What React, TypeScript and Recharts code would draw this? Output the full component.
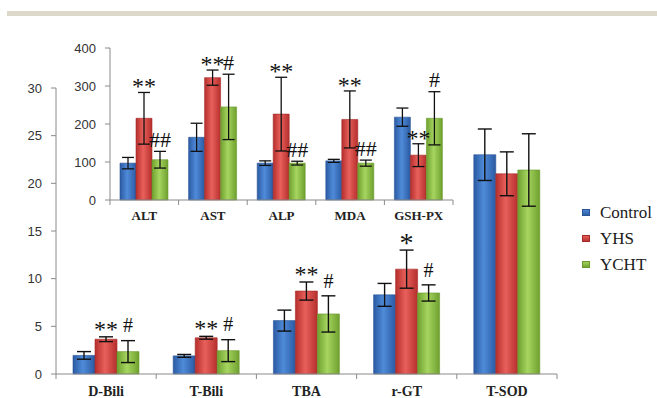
import React from "react";
import { BarChart, Bar, XAxis, YAxis, ErrorBar, Legend } from "recharts";

// lower (main) chart
const mainCats = ["D-Bili", "T-Bili", "TBA", "r-GT", "T-SOD"];
const mainControl = [1.95, 1.9, 5.6, 8.3, 23.0];
const mainControlErr = [0.4, 0.15, 1.1, 1.2, 2.7];
const mainYHS = [3.65, 3.8, 8.7, 11.0, 21.0];
const mainYHSErr = [0.25, 0.15, 0.95, 2.0, 2.3];
const mainYCHT = [2.35, 2.45, 6.3, 8.5, 21.4];
const mainYCHTErr = [1.15, 1.15, 1.9, 0.85, 3.8];
const mainYHSMark = ["**", "**", "**", "*", ""];
const mainYCHTMark = ["#", "#", "#", "#", ""];
const mainTicks = [0, 5, 10, 15, 20, 25, 30];

// inset chart
const insetCats = ["ALT", "AST", "ALP", "MDA", "GSH-PX"];
const insetControl = [97, 165, 97, 103, 218];
const insetControlErr = [15, 37, 6, 4, 24];
const insetYHS = [215, 322, 226, 212, 118];
const insetYHSErr = [68, 20, 97, 75, 30];
const insetYCHT = [106, 245, 97, 97, 215];
const insetYCHTErr = [22, 86, 5, 8, 70];
const insetYHSMark = ["**", "**", "**", "**", "**"];
const insetYCHTMark = ["##", "#", "##", "##", "#"];
const insetTicks = [0, 100, 200, 300, 400];

const mainData = mainCats.map((name, i) => ({
  name,
  control: mainControl[i],
  controlErr: mainControlErr[i],
  yhs: mainYHS[i],
  yhsErr: mainYHSErr[i],
  ycht: mainYCHT[i],
  yhctErr: mainYCHTErr[i],
}));

const insetData = insetCats.map((name, i) => ({
  name,
  control: insetControl[i],
  controlErr: insetControlErr[i],
  yhs: insetYHS[i],
  yhsErr: insetYHSErr[i],
  ycht: insetYCHT[i],
  yhctErr: insetYCHTErr[i],
}));

const serif = "Liberation Serif, serif";
const sans = "Liberation Sans, Arial, sans-serif";
const axisGray = "#8a8a8a";

const colors = {
  control: { a: "#2b5aa3", b: "#4f8bd9", stroke: "#2a5597" },
  yhs: { a: "#b52f2d", b: "#e9605b", stroke: "#a52a28" },
  ycht: { a: "#6f9f2e", b: "#a6d660", stroke: "#6a9a2b" },
};

// significance marks drawn above the error bar of each bar
const makeMark =
  (marks: string[], errs: number[], starSize: number, hashSize: number, gapStar: number, gapHash: number) =>
  (props: any) => {
    const { x, y, width, height, value, index } = props;
    const m = marks[index];
    if (!m || !value) return null;
    const ppu = height / value;
    const top = y - errs[index] * ppu;
    const star = m[0] === "*";
    const fs = star ? (m.length === 1 ? starSize + 4 : starSize) : hashSize;
    const base = star ? top - gapStar + fs * 0.5 : top - gapHash + fs * 0.34;
    return (
      <text
        key={`m-${index}`}
        x={x + width / 2}
        y={base}
        textAnchor="middle"
        fontSize={fs}
        fontFamily={serif}
        fill="#111"
      >
        {m}
      </text>
    );
  };

const legendItems = [
  ["Control", "control"],
  ["YHS", "yhs"],
  ["YCHT", "ycht"],
];

const LegendBox = () => (
  <svg width={76} height={80}>
    {legendItems.map(([label, key], i) => {
      const c = (colors as any)[key];
      return (
        <g key={label} transform={`translate(0, ${i * 26})`}>
          <rect x={1.5} y={10.5} width={7} height={6} fill={`url(#v-${key})`} stroke={c.stroke} strokeWidth={1} />
          <text x={19} y={19} fontSize={17} fontFamily={serif} fill="#1a1a1a">
            {label}
          </text>
        </g>
      );
    })}
  </svg>
);

function Gradients() {
  return (
    <svg width={0} height={0} style={{ position: "absolute" }}>
      <defs>
        {Object.entries(colors).map(([k, c]) => (
          <linearGradient key={k} id={`g-${k}`} x1="0" y1="0" x2="1" y2="0">
            <stop offset="0%" stopColor={c.a} />
            <stop offset="45%" stopColor={c.b} />
            <stop offset="100%" stopColor={c.a} />
          </linearGradient>
        ))}
        {Object.entries(colors).map(([k, c]) => (
          <linearGradient key={`v${k}`} id={`v-${k}`} x1="0" y1="0" x2="0" y2="1">
            <stop offset="0%" stopColor={c.b} />
            <stop offset="100%" stopColor={c.a} />
          </linearGradient>
        ))}
      </defs>
    </svg>
  );
}

// category label plus short tick marks at the group boundaries
const catTick = (fontSize: number, dy: number) => (props: any) => {
  const { x, y, payload, index, visibleTicksCount, width } = props;
  const half = payload && payload.offset ? payload.offset : width / visibleTicksCount / 2;
  const last = index === visibleTicksCount - 1;
  return (
    <g>
      <line x1={x - half} y1={y} x2={x - half} y2={y + 5} stroke={axisGray} />
      {last && <line x1={x + half} y1={y} x2={x + half} y2={y + 5} stroke={axisGray} />}
      <text x={x} y={y + dy} textAnchor="middle" fontSize={fontSize} fontWeight="bold" fontFamily={serif} fill="#222">
        {payload.value}
      </text>
    </g>
  );
};

export default function App() {
  return (
    <div style={{ position: "absolute", left: 0, top: 0, width: 657, height: 398, background: "#fff", overflow: "hidden" }}>
      <Gradients />
      <div style={{ position: "absolute", left: 7, top: 11, width: 650, height: 5, background: "#ddd8ca" }} />

      <div style={{ position: "absolute", left: 0, top: 0 }}>
        <BarChart width={657} height={398} data={mainData} margin={{ top: 88, right: 100, bottom: 0, left: 0 }} barGap={0}>
          <XAxis
            dataKey="name"
            height={24}
            stroke={axisGray}
            tickLine={false}
            tickSize={0}
            tickMargin={0}
            tick={catTick(14, 22)}
            interval={0}
          />
          <YAxis
            domain={[0, 30]}
            ticks={mainTicks}
            width={56}
            tickSize={5}
            stroke={axisGray}
            tick={{ fill: "#333", fontSize: 13, fontFamily: sans }}
            tickMargin={9}
            interval={0}
          />
          <Legend layout="vertical" align="center" verticalAlign="middle" content={<LegendBox />} wrapperStyle={{ left: 581, top: 199, width: 76 }} />
          <Bar dataKey="control" name="Control" barSize={22} fill="url(#g-control)" stroke={colors.control.stroke} strokeWidth={0.6} isAnimationActive={false}>
            <ErrorBar dataKey="controlErr" width={7} stroke="#111" strokeWidth={1.4} isAnimationActive={false} />
          </Bar>
          <Bar
            dataKey="yhs"
            name="YHS"
            barSize={22}
            fill="url(#g-yhs)"
            stroke={colors.yhs.stroke}
            strokeWidth={0.6}
            isAnimationActive={false}
            label={makeMark(mainYHSMark, mainYHSErr, 24, 20, 12, 15)}
          >
            <ErrorBar dataKey="yhsErr" width={7} stroke="#111" strokeWidth={1.4} isAnimationActive={false} />
          </Bar>
          <Bar
            dataKey="ycht"
            name="YCHT"
            barSize={22}
            fill="url(#g-ycht)"
            stroke={colors.ycht.stroke}
            strokeWidth={0.6}
            isAnimationActive={false}
            label={makeMark(mainYCHTMark, mainYCHTErr, 24, 20, 12, 15)}
          >
            <ErrorBar dataKey="yhctErr" width={7} stroke="#111" strokeWidth={1.4} isAnimationActive={false} />
          </Bar>
        </BarChart>
      </div>

      <div style={{ position: "absolute", left: 0, top: 0 }}>
        <BarChart width={470} height={230} data={insetData} margin={{ top: 48, right: 17, bottom: 0, left: 0 }} barGap={0}>
          <XAxis
            dataKey="name"
            height={30}
            stroke={axisGray}
            tickLine={false}
            tickSize={0}
            tickMargin={0}
            tick={catTick(13, 20)}
            interval={0}
          />
          <YAxis
            domain={[0, 400]}
            ticks={insetTicks}
            width={110}
            tickSize={5}
            stroke={axisGray}
            tick={{ fill: "#333", fontSize: 13, fontFamily: sans }}
            tickMargin={9}
            interval={0}
          />
          <Bar dataKey="control" barSize={16} fill="url(#g-control)" stroke={colors.control.stroke} strokeWidth={0.6} isAnimationActive={false}>
            <ErrorBar dataKey="controlErr" width={6} stroke="#111" strokeWidth={1.3} isAnimationActive={false} />
          </Bar>
          <Bar
            dataKey="yhs"
            barSize={16}
            fill="url(#g-yhs)"
            stroke={colors.yhs.stroke}
            strokeWidth={0.6}
            isAnimationActive={false}
            label={makeMark(insetYHSMark, insetYHSErr, 24, 22, 10, 12)}
          >
            <ErrorBar dataKey="yhsErr" width={6} stroke="#111" strokeWidth={1.3} isAnimationActive={false} />
          </Bar>
          <Bar
            dataKey="ycht"
            barSize={16}
            fill="url(#g-ycht)"
            stroke={colors.ycht.stroke}
            strokeWidth={0.6}
            isAnimationActive={false}
            label={makeMark(insetYCHTMark, insetYCHTErr, 24, 22, 9, 12)}
          >
            <ErrorBar dataKey="yhctErr" width={6} stroke="#111" strokeWidth={1.3} isAnimationActive={false} />
          </Bar>
        </BarChart>
      </div>
    </div>
  );
}
